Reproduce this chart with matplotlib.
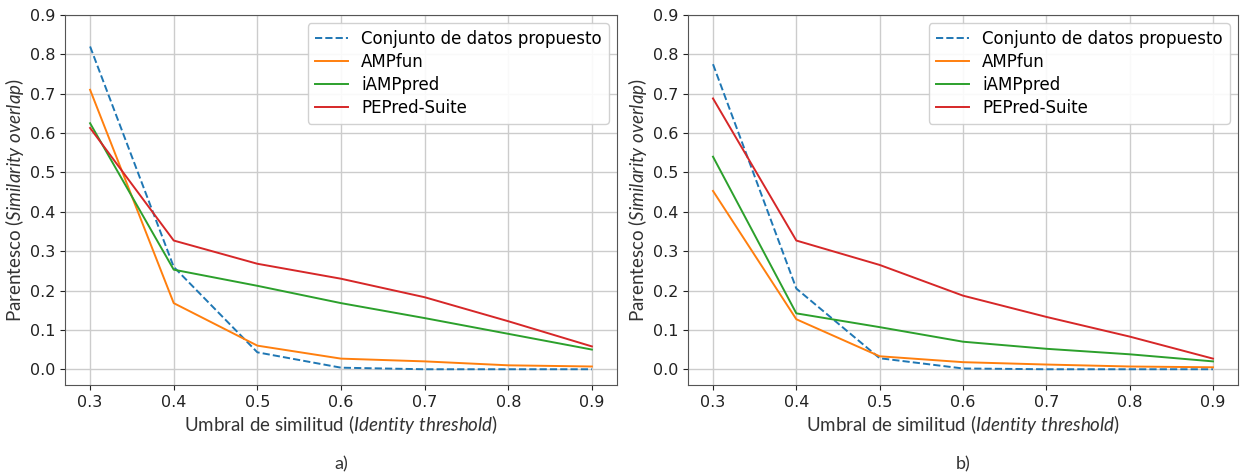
import matplotlib

matplotlib.use("Agg")
import matplotlib.pyplot as plt

plt.rcParams["font.family"] = ["DejaVu Sans"]
plt.rcParams["mathtext.fontset"] = "custom"
plt.rcParams["mathtext.rm"] = "Lato"
plt.rcParams["mathtext.it"] = "Lato:italic"

thresholds = [0.3, 0.4, 0.5, 0.6, 0.7, 0.8, 0.9]
series_names = ["Conjunto de datos propuesto", "AMPfun", "iAMPpred", "PEPred-Suite"]

# panel a)
a_conjunto = [0.82, 0.26, 0.043, 0.004, 0.0, 0.0, 0.0]
a_ampfun = [0.71, 0.168, 0.06, 0.027, 0.02, 0.01, 0.007]
a_iamppred = [0.625, 0.253, 0.212, 0.168, 0.13, 0.09, 0.05]
a_pepred = [0.613, 0.327, 0.268, 0.23, 0.183, 0.122, 0.058]

# panel b)
b_conjunto = [0.775, 0.205, 0.028, 0.002, 0.0, 0.0, 0.0]
b_ampfun = [0.453, 0.127, 0.033, 0.018, 0.012, 0.007, 0.005]
b_iamppred = [0.54, 0.142, 0.107, 0.07, 0.052, 0.038, 0.02]
b_pepred = [0.688, 0.327, 0.265, 0.187, 0.133, 0.083, 0.027]

panel_labels = ["a)", "b)"]
y_ticks = [0.0, 0.1, 0.2, 0.3, 0.4, 0.5, 0.6, 0.7, 0.8, 0.9]

colors = ["#1f77b4", "#ff7f0e", "#2ca02c", "#d62728"]
styles = ["--", "-", "-", "-"]

fig = plt.figure(figsize=(12.43, 4.76), dpi=100)
ax_a = fig.add_axes([65 / 1243, 1 - 385 / 476, 552 / 1243, 370 / 476])
ax_b = fig.add_axes([688 / 1243, 1 - 385 / 476, 550 / 1243, 370 / 476])

panels = [
    (ax_a, [a_conjunto, a_ampfun, a_iamppred, a_pepred]),
    (ax_b, [b_conjunto, b_ampfun, b_iamppred, b_pepred]),
]

for (ax, values), label in zip(panels, panel_labels):
    for name, ys, color, ls in zip(series_names, values, colors, styles):
        ax.plot(thresholds, ys, linestyle=ls, color=color, linewidth=1.4, label=name)
    ax.set_xlim(0.27, 0.93)
    ax.set_ylim(-0.04, 0.9)
    ax.set_xticks(thresholds)
    ax.set_yticks(y_ticks)
    ax.tick_params(labelsize=11.5, colors="#222222")
    ax.grid(color="#cccccc", linewidth=1.0)
    for spine in ax.spines.values():
        spine.set_color("#555555")
    ax.set_xlabel(r"Umbral de similitud $\mathit{(Identity\ threshold)}$",
                  fontsize=13.5, family="Lato", color="#333333", labelpad=2)
    ax.set_ylabel(r"Parentesco $\mathit{(Similarity\ overlap)}$",
                  fontsize=13.5, family="Lato", color="#333333", labelpad=3)
    ax.legend(loc="upper right", fontsize=12, framealpha=0.9, borderaxespad=0.5,
              labelspacing=0.3)
    ax.text(0.5, -0.215, label, transform=ax.transAxes, ha="center", va="center",
            fontsize=13, family="Lato", color="#333333")

fig.savefig("out.png", dpi=100)
